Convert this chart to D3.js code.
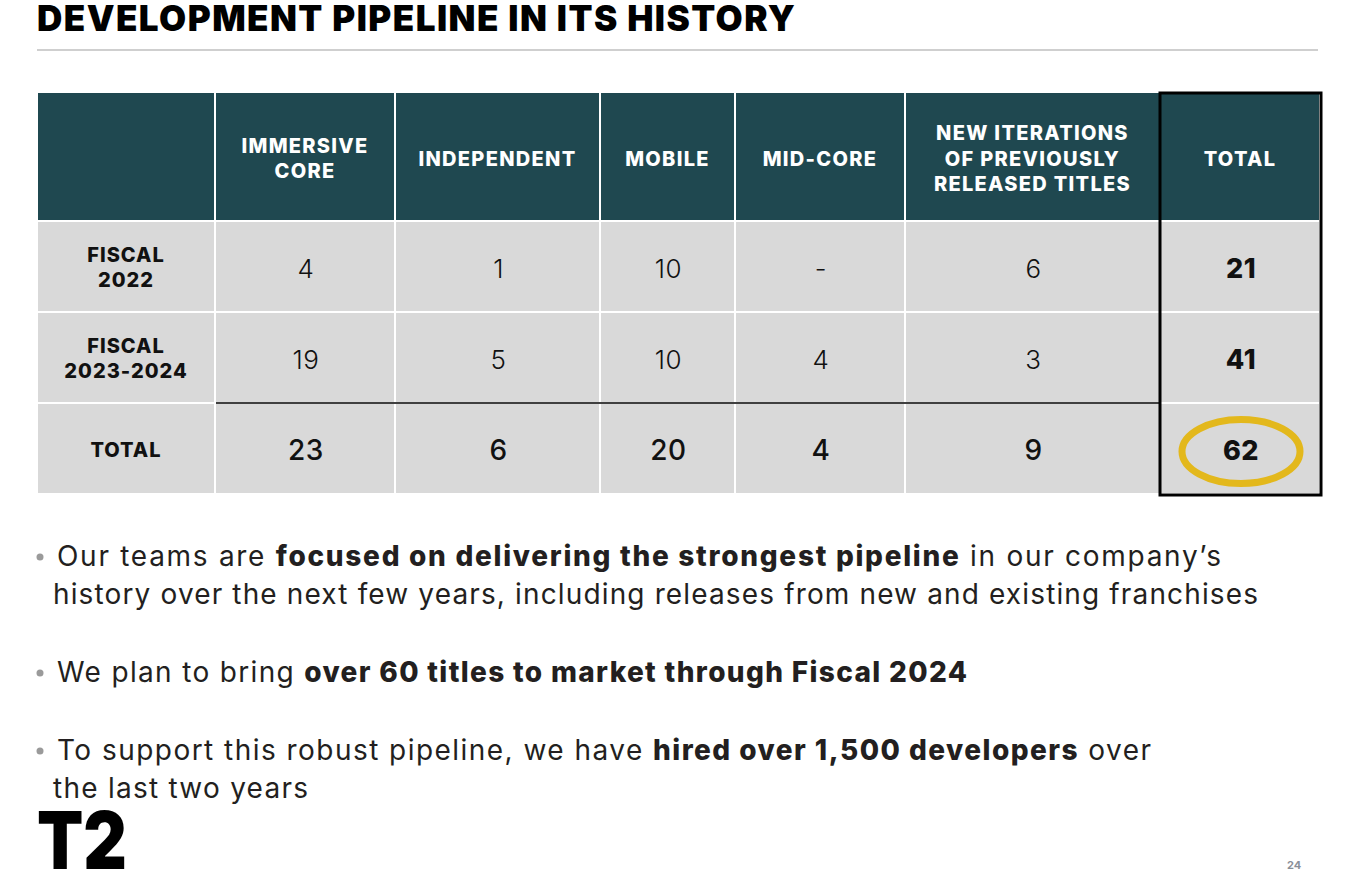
<!DOCTYPE html>
<html><head><meta charset="utf-8">
<script src="https://cdn.jsdelivr.net/npm/d3@7/dist/d3.min.js"></script>
<style>body{margin:0;background:#fff}svg{display:block}</style>
</head><body>
<script>
const title = "DEVELOPMENT PIPELINE IN ITS HISTORY";
const categories = [["IMMERSIVE","CORE"],["INDEPENDENT"],["MOBILE"],["MID-CORE"],["NEW ITERATIONS","OF PREVIOUSLY","RELEASED TITLES"],["TOTAL"]];
const rowLabels = [["FISCAL","2022"],["FISCAL","2023-2024"],["TOTAL"]];
const fiscal2022 = ["4","1","10","-","6","21"];
const fiscal2023_2024 = ["19","5","10","4","3","41"];
const totals = ["23","6","20","4","9","62"];
const rows = [fiscal2022, fiscal2023_2024, totals];
const bullets = [
  [[["Our teams are ",0],["focused on delivering the strongest pipeline",1],[" in our company’s",0]],
   [["history over the next few years, including releases from new and existing franchises",0]]],
  [[["We plan to bring ",0],["over 60 titles to market through Fiscal 2024",1]]],
  [[["To support this robust pipeline, we have ",0],["hired over 1,500 developers",1],[" over",0]],
   [["the last two years",0]]]
];
const pageNum = "24";

const W = 1346, H = 872;
const svg = d3.select("body").append("svg").attr("width", W).attr("height", H);
const FONT = "Inter, Lato, sans-serif";

function fit(sel, target){
  const n = sel.node();
  sel.attr("letter-spacing", 0);
  const w = n.getComputedTextLength();
  const chars = n.textContent.length;
  if (chars > 1) sel.attr("letter-spacing", ((target - w) / (chars - 1)).toFixed(3));
}

// Title
const t = svg.append("text").attr("x", 37).attr("y", 31).attr("font-family", FONT)
  .attr("font-weight", 900).attr("font-size", 35).attr("fill", "#000").text(title);
fit(t, 758);
svg.append("line").attr("x1", 37).attr("x2", 1318).attr("y1", 50).attr("y2", 50)
  .attr("stroke", "#cfcfcf").attr("stroke-width", 2);

// Table layout
const colKeys = ["label", ...d3.range(categories.length)];
const colWidths = [178, 180, 205, 135, 170, 255, 160];
const colEdges = [38, ...d3.cumsum(colWidths).map(v => v + 38)];
const xCol = d3.scaleOrdinal().domain(colKeys).range(colEdges.slice(0, -1));
const wCol = d3.scaleOrdinal().domain(colKeys).range(colWidths);
const rowKeys = ["header", 0, 1, 2];
const rowHeights = [129, 91, 91, 91];
const rowEdges = [93, ...d3.cumsum(rowHeights).map(v => v + 93)];
const yRow = d3.scaleOrdinal().domain(rowKeys).range(rowEdges.slice(0, -1));
const hRow = d3.scaleOrdinal().domain(rowKeys).range(rowHeights);
const gap = 2;
const teal = "#1f4850", grey = "#d9d9d9";

const tbl = svg.append("g");
// header cells
tbl.selectAll("rect.h").data(colKeys).join("rect")
  .attr("x", k => xCol(k)).attr("y", yRow("header"))
  .attr("width", k => wCol(k) - gap).attr("height", hRow("header") - gap)
  .attr("fill", teal);
categories.forEach((lines, i) => {
  const cx = xCol(i) + (wCol(i) - gap) / 2;
  const cy = yRow("header") + (hRow("header") - gap) / 2;
  const lh = 25.5;
  tbl.append("text").attr("text-anchor", "middle").attr("font-family", FONT)
    .attr("font-weight", 800).attr("font-size", 20).attr("fill", "#fff").attr("letter-spacing", 1.3)
    .selectAll("tspan").data(lines).join("tspan")
    .attr("x", cx).attr("y", (d, j) => cy + (j - (lines.length - 1) / 2) * lh + 9).text(d => d);
});
// body cells
rows.forEach((vals, r) => {
  tbl.selectAll(null).data(colKeys).join("rect")
    .attr("x", k => xCol(k)).attr("y", yRow(r))
    .attr("width", k => wCol(k) - gap).attr("height", hRow(r) - gap).attr("fill", grey);
  const cy = yRow(r) + (hRow(r) - gap) / 2;
  const lab = rowLabels[r];
  tbl.append("text").attr("text-anchor", "middle").attr("font-family", FONT)
    .attr("font-weight", 800).attr("font-size", 20).attr("fill", "#111").attr("letter-spacing", 1)
    .selectAll("tspan").data(lab).join("tspan")
    .attr("x", xCol("label") + (wCol("label") - gap) / 2)
    .attr("y", (d, j) => cy + (j - (lab.length - 1) / 2) * 25.5 + 8).text(d => d);
  vals.forEach((v, i) => {
    const isTotalCol = i === vals.length - 1;
    const isTotalRow = r === rows.length - 1;
    tbl.append("text").attr("text-anchor", "middle").attr("font-family", FONT)
      .attr("x", xCol(i) + (wCol(i) - gap) / 2 + 1).attr("y", cy + 11)
      .attr("font-size", isTotalCol ? 27 : (isTotalRow ? 28 : 26))
      .attr("font-weight", isTotalCol ? 800 : (isTotalRow ? 500 : 300))
      .attr("letter-spacing", 0.5)
      .attr("fill", "#111").text(v);
  });
});
// thin black line above totals row
tbl.append("line").attr("x1", xCol(0)).attr("x2", xCol(categories.length - 1))
  .attr("y1", yRow(2) - 1).attr("y2", yRow(2) - 1).attr("stroke", "#000").attr("stroke-width", 1.5);
// thick box around total column
const tc = categories.length - 1;
tbl.append("rect").attr("x", xCol(tc) - 1).attr("y", rowEdges[0])
  .attr("width", wCol(tc) + 1).attr("height", rowEdges[rowEdges.length - 1] - rowEdges[0])
  .attr("fill", "none").attr("stroke", "#000").attr("stroke-width", 3);
// highlight ellipse
tbl.append("ellipse").attr("cx", xCol(tc) + (wCol(tc) - gap) / 2 + 1).attr("cy", yRow(2) + (hRow(2) - gap) / 2 + 3)
  .attr("rx", 59).attr("ry", 32).attr("fill", "none").attr("stroke", "#e3b81c").attr("stroke-width", 7);

// Bullets
const bulletY = [566, 682, 760];
const lineTargets = [[[57, 1221], [53, 1258]], [[57, 967]], [[57, 1151], [53, 308]]];
bullets.forEach((b, i) => {
  svg.append("circle").attr("cx", 40).attr("cy", bulletY[i] - 9).attr("r", 3.5).attr("fill", "#9a9a9a");
  b.forEach((line, li) => {
    const [x0, x1] = lineTargets[i][li];
    const tx = svg.append("text").attr("x", x0).attr("y", bulletY[i] + li * 38)
      .attr("font-family", FONT).attr("font-size", 28).attr("fill", "#231f20");
    tx.selectAll("tspan").data(line).join("tspan")
      .attr("font-weight", d => d[1] ? 800 : 400).text(d => d[0]);
    fit(tx, x1 - x0);
  });
});

// T2 logo
svg.append("text").attr("x", 37).attr("y", 869).attr("font-family", FONT)
  .attr("font-weight", 900).attr("font-size", 80).attr("fill", "#000")
  .attr("textLength", 90).attr("lengthAdjust", "spacingAndGlyphs").text("T2");
// page number
svg.append("text").attr("x", 1294).attr("y", 869).attr("text-anchor", "middle").attr("font-family", FONT)
  .attr("font-weight", 700).attr("font-size", 11).attr("fill", "#8a8f99").text(pageNum);
</script>
</body></html>
